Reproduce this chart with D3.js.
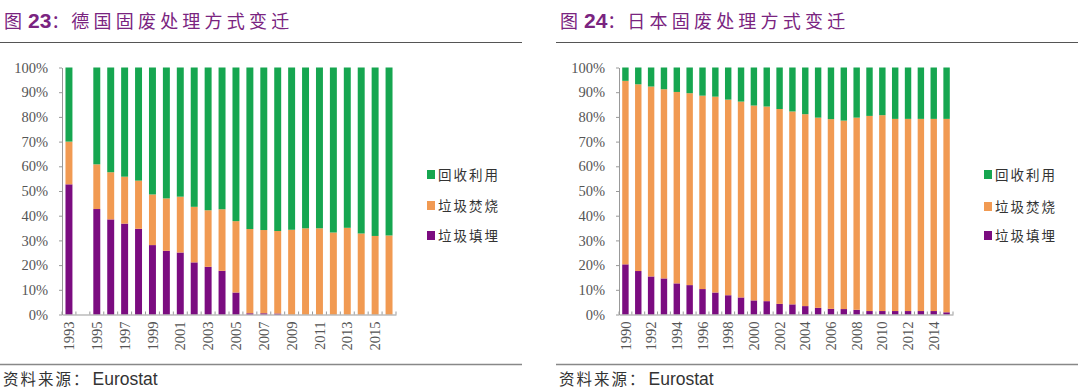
<!DOCTYPE html>
<html><head><meta charset="utf-8">
<script src="https://cdn.jsdelivr.net/npm/d3@7"></script>
<style>
body{margin:0;background:#fff;}
svg{display:block;}
</style></head>
<body>
<svg id="c" width="1080" height="390"></svg>
<script>
// Germany (图23)
const deYears = ["1993","1994","1995","1996","1997","1998","1999","2000","2001","2002","2003","2004","2005","2006","2007","2008","2009","2010","2011","2012","2013","2014","2015","2016"];
const deLandfill = [52.7,0,42.7,38.5,36.8,34.7,28.1,25.8,25.1,21.1,19.3,17.7,8.9,0.5,0.5,0.4,0,0,0,0,0,0,0,0];
const deIncineration = [17.3,0,18.1,19.1,19.0,19.5,20.5,21.2,22.6,22.5,22.9,24.9,28.9,34.1,33.7,33.4,34.3,34.9,34.9,33.2,35.1,32.8,31.8,32.0];
const deRecycling = [30.0,0,39.2,42.4,44.2,45.8,51.4,53.0,52.3,56.4,57.8,57.4,62.2,65.4,65.8,66.2,65.7,65.1,65.1,66.8,64.9,67.2,68.2,68.0];
const deTickYears = ["1993","1995","1997","1999","2001","2003","2005","2007","2009","2011","2013","2015"];

// Japan (图24)
const jpYears = ["1990","1991","1992","1993","1994","1995","1996","1997","1998","1999","2000","2001","2002","2003","2004","2005","2006","2007","2008","2009","2010","2011","2012","2013","2014","2015"];
const jpLandfill = [20.3,17.6,15.4,14.6,12.6,11.9,10.3,8.9,7.8,6.9,5.7,5.4,4.3,4.1,3.4,2.7,2.3,2.2,1.9,1.4,1.4,1.4,1.4,1.4,1.4,0.9];
const jpIncineration = [74.3,75.6,76.9,76.6,77.5,77.7,78.3,79.3,79.2,79.3,78.9,78.8,78.9,78.1,77.7,77.0,76.8,76.3,77.8,79.0,79.3,77.8,77.8,77.8,77.8,78.3];
const jpRecycling = [5.4,6.8,7.7,8.8,9.9,10.4,11.4,11.8,13.0,13.8,15.4,15.8,16.8,17.8,18.9,20.3,20.9,21.5,20.3,19.6,19.3,20.8,20.8,20.8,20.8,20.8];
const jpTickYears = ["1990","1992","1994","1996","1998","2000","2002","2004","2006","2008","2010","2012","2014"];

const yTicks = [0,10,20,30,40,50,60,70,80,90,100];
const seriesNames = ["回收利用","垃圾焚烧","垃圾填埋"];
const colors = {"回收利用":"#16a650","垃圾焚烧":"#f19a52","垃圾填埋":"#7b0c80"};

const svg = d3.select("#c");
const cjk = "'Noto Sans CJK SC', sans-serif";
const serif = "'Liberation Serif','Times New Roman',serif";
const sans = "'Liberation Sans',Arial,sans-serif";

function panel(o){
  const g = svg.append("g");
  // title
  const t = g.append("text").attr("x", o.x0 + 4).attr("y", 28)
    .attr("fill", "#7a2480").style("font-family", cjk).style("font-size", "18px");
  t.append("tspan").text("图");
  t.append("tspan").text(o.num).attr("dx", 6).style("font-family", sans).style("font-weight","bold").style("font-size","21px");
  t.append("tspan").text("：").style("letter-spacing","2px");
  t.append("tspan").text(o.title).style("letter-spacing","4.2px");
  g.append("line").attr("x1", o.x0).attr("x2", o.x1).attr("y1", 42.5).attr("y2", 42.5)
    .attr("stroke", "#555").attr("stroke-width", 1);
  g.append("line").attr("x1", o.x0).attr("x2", o.x1).attr("y1", 364.5).attr("y2", 364.5)
    .attr("stroke", "#888").attr("stroke-width", 1.5);
  g.append("text").attr("x", o.x0 + 3).attr("y", 385).attr("fill", "#333")
    .style("font-family", cjk).style("font-size", "15.5px")
    .call(s => { s.append("tspan").text("资料来源：").style("letter-spacing","2px"); s.append("tspan").text("Eurostat").attr("dx", 2).style("font-family", sans).style("font-size","17.5px"); });

  const x = d3.scaleBand().domain(o.years).range([o.left, o.right]).paddingInner(0.5).paddingOuter(0.25);
  const y = d3.scaleLinear().domain([0,100]).range([314.5, 67.5]);

  const rows = o.years.map((yr,i) => ({year: yr, "垃圾填埋": o.landfill[i], "垃圾焚烧": o.incin[i], "回收利用": o.recyc[i]}));
  const stack = d3.stack().keys(["垃圾填埋","垃圾焚烧","回收利用"])(rows);
  stack.forEach(layer => {
    g.append("g").attr("fill", colors[layer.key]).selectAll("rect").data(layer).join("rect")
      .attr("x", d => x(d.data.year)).attr("width", x.bandwidth())
      .attr("y", d => y(d[1])).attr("height", d => Math.max(0, y(d[0]) - y(d[1])));
  });

  // y axis
  const ya = g.append("g").attr("transform", `translate(${o.left},0)`)
    .call(d3.axisLeft(y).tickValues(yTicks).tickFormat(d => d + "%").tickSize(3).tickSizeOuter(0));
  ya.select(".domain").attr("stroke", "#999");
  ya.selectAll(".tick line").attr("stroke", "#999");
  ya.selectAll("text").attr("fill", "#555").attr("x", -14).style("font-family", serif).style("font-size", "14.5px");

  // x axis
  const xa = g.append("g").attr("transform", `translate(0,${y(0)})`)
    .call(d3.axisBottom(x).tickValues(o.tickYears).tickSize(0).tickSizeOuter(0));
  xa.select(".domain").attr("stroke", "#999");
  xa.selectAll("text").attr("fill", "#555").style("font-family", serif).style("font-size", "14.5px")
    .attr("transform", "rotate(-90)").attr("text-anchor", "end").attr("x", -7).attr("y", 0).attr("dy", "0.35em").attr("dx", 0);
  // boundary ticks
  const bounds = d3.range(o.years.length + 1).map(i => o.left + i * (o.right - o.left) / o.years.length);
  g.append("g").selectAll("line").data(bounds).join("line")
    .attr("x1", d => d).attr("x2", d => d).attr("y1", y(0)).attr("y2", y(0) - 3)
    .attr("stroke", "#999");

  // legend
  const lg = g.append("g");
  seriesNames.forEach((n, i) => {
    const yy = o.legY[i];
    lg.append("rect").attr("x", o.legX).attr("y", yy - 5).attr("width", 8).attr("height", 9).attr("fill", colors[n]);
    lg.append("text").attr("x", o.legX + 11).attr("y", yy).attr("dy", "0.35em").attr("fill", "#333")
      .style("font-family", cjk).style("font-size", "13.5px").style("letter-spacing","2px").text(n);
  });
}

panel({x0:0, x1:522, num:"23", title:"德国固废处理方式变迁", years:deYears, landfill:deLandfill, incin:deIncineration, recyc:deRecycling, tickYears:deTickYears, left:62, right:396, legX:427, legY:[175,206,236]});
panel({x0:556, x1:1078, num:"24", title:"日本固废处理方式变迁", years:jpYears, landfill:jpLandfill, incin:jpIncineration, recyc:jpRecycling, tickYears:jpTickYears, left:619, right:953, legX:984, legY:[175,207,236]});
</script>
</body></html>
